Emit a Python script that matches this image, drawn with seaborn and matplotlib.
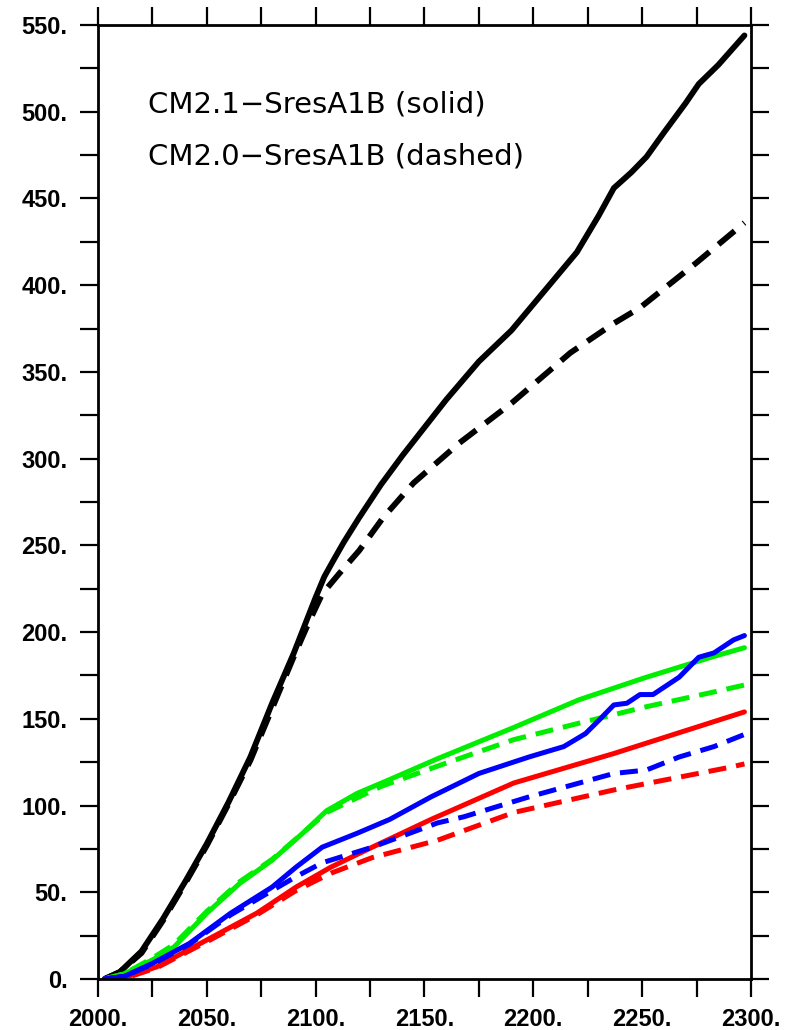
import pandas as pd
import matplotlib
matplotlib.use("Agg")
import matplotlib.pyplot as plt
from matplotlib.ticker import MultipleLocator, FuncFormatter
import seaborn as sns

# Datos (años, valores)
anios_negro = [2003, 2010, 2020, 2030, 2040, 2050, 2060, 2070, 2080, 2090, 2095, 2100,
               2104, 2108, 2113, 2120, 2130, 2140, 2150, 2160, 2175, 2190, 2200, 2210,
               2220, 2230, 2237, 2245, 2252, 2260, 2270, 2276, 2285, 2297]
negro_cm21 = [0, 4, 16, 35, 56, 78, 102, 128, 159, 188, 204, 220,
              232, 241, 252, 266, 285, 302, 318, 334, 356, 374, 389, 404,
              419, 440, 456, 465, 474, 488, 505, 516, 527, 544]

anios_negro_20 = [2003, 2010, 2020, 2030, 2040, 2050, 2060, 2070, 2080, 2090, 2097, 2103,
                  2111, 2120, 2131, 2145, 2166, 2190, 2217, 2237, 2249, 2275, 2297]
negro_cm20 = [0, 4, 15, 34, 55, 77, 101, 126, 156, 186, 206, 222,
              234, 247, 266, 286, 309, 332, 361, 378, 387, 413, 436]

anios_verde = [2003, 2012, 2025, 2035, 2050, 2065, 2080, 2094, 2105, 2119, 2134, 2156,
               2191, 2221, 2252, 2283, 2297]
verde_cm21 = [0, 3, 11, 18.5, 38, 55, 68.5, 84, 97, 107, 115, 127,
              145, 161, 174, 186, 191]

anios_verde_20 = [2003, 2012, 2025, 2035, 2050, 2065, 2080, 2094, 2105, 2120, 2130, 2160,
                  2191, 2221, 2252, 2283, 2297]
verde_cm20 = [0, 3, 12, 20, 39, 56, 69, 84, 96, 105, 111, 124.5,
              138, 147.5, 157, 165.5, 169.5]

anios_azul = [2003, 2012, 2025, 2042, 2061, 2080, 2091, 2103, 2119, 2134, 2153, 2175,
              2198, 2214, 2224, 2230, 2237, 2243, 2249, 2255, 2267, 2276, 2283, 2292, 2297]
azul_cm21 = [0, 1.5, 9, 20.5, 38, 53, 64.5, 76, 84, 92, 105, 118.5,
             128, 134, 141.5, 149, 158, 159, 164, 164, 174, 185.5, 188, 195.5, 198]

anios_azul_20 = [2003, 2012, 2025, 2042, 2061, 2080, 2091, 2103, 2126, 2156, 2168, 2198,
                 2237, 2252, 2267, 2283, 2297]
azul_cm20 = [0, 1.5, 8.5, 20, 37, 51, 59, 67, 76, 90, 93.5, 105,
             118.5, 120.5, 128, 134, 141]

anios_rojo = [2003, 2015, 2027, 2050, 2073, 2091, 2107, 2126, 2153, 2191, 2237, 2267, 2297]
rojo_cm21 = [0, 2, 7, 22.5, 38, 53, 64.5, 76, 92, 113, 130, 142, 154]

anios_rojo_20 = [2003, 2015, 2027, 2050, 2073, 2091, 2107, 2126, 2156, 2191, 2237, 2290, 2297]
rojo_cm20 = [0, 1.5, 6.5, 21.5, 37, 51, 61, 70, 80, 96, 109, 122, 124]

series = [
    (anios_negro_20, negro_cm20, 'black', 'dashed', 4.2),
    (anios_negro, negro_cm21, 'black', 'solid', 4.2),
    (anios_verde_20, verde_cm20, '#00ee00', 'dashed', 3.6),
    (anios_verde, verde_cm21, '#00ee00', 'solid', 3.6),
    (anios_rojo_20, rojo_cm20, '#ff0000', 'dashed', 3.6),
    (anios_rojo, rojo_cm21, '#ff0000', 'solid', 3.6),
    (anios_azul_20, azul_cm20, '#0000ff', 'dashed', 3.6),
    (anios_azul, azul_cm21, '#0000ff', 'solid', 3.6),
]

sns.set_style("white")
plt.rcParams['font.family'] = ['DejaVu Sans']
plt.rcParams['text.color'] = 'black'

fig = plt.figure(figsize=(7.94, 10.30), dpi=100)
ax = fig.add_axes([0.1234, 0.0495, 0.8224, 0.9262])

for anios, valores, color, estilo, grosor in series:
    df = pd.DataFrame({'anio': anios, 'valor': valores})
    ls = (0, (3.6, 2.0)) if estilo == 'dashed' else '-'
    sns.lineplot(data=df, x='anio', y='valor', ax=ax, color=color,
                 linewidth=grosor, linestyle=ls, estimator=None,
                 solid_capstyle='round', solid_joinstyle='round', dash_capstyle='butt')

ax.set_xlim(2000, 2300)
ax.set_ylim(0, 550)
ax.set_xlabel('')
ax.set_ylabel('')

ax.xaxis.set_major_locator(MultipleLocator(50))
ax.xaxis.set_minor_locator(MultipleLocator(25))
ax.yaxis.set_major_locator(MultipleLocator(50))
ax.yaxis.set_minor_locator(MultipleLocator(25))
fmt = FuncFormatter(lambda v, p: f"{v:.0f}.")
ax.xaxis.set_major_formatter(fmt)
ax.yaxis.set_major_formatter(fmt)

for s in ax.spines.values():
    s.set_visible(True)
    s.set_color('black')
    s.set_linewidth(2)

ax.tick_params(which='both', direction='out', length=13, width=1.6,
               top=True, right=True, bottom=True, left=True, color='black',
               labelcolor='black')
ax.tick_params(axis='x', which='major', pad=8)
ax.tick_params(axis='y', which='major', pad=9)
for lab in ax.get_xticklabels() + ax.get_yticklabels():
    lab.set_family('Liberation Sans')
    lab.set_fontweight('bold')
    lab.set_fontsize(17)
    lab.set_color('black')

ax.text(0.076, 0.917, 'CM2.1\u2212SresA1B (solid)', transform=ax.transAxes,
        fontsize=21, va='center', ha='left', color='black')
ax.text(0.076, 0.862, 'CM2.0\u2212SresA1B (dashed)', transform=ax.transAxes,
        fontsize=21, va='center', ha='left', color='black')

fig.savefig('out.png', dpi=100)
